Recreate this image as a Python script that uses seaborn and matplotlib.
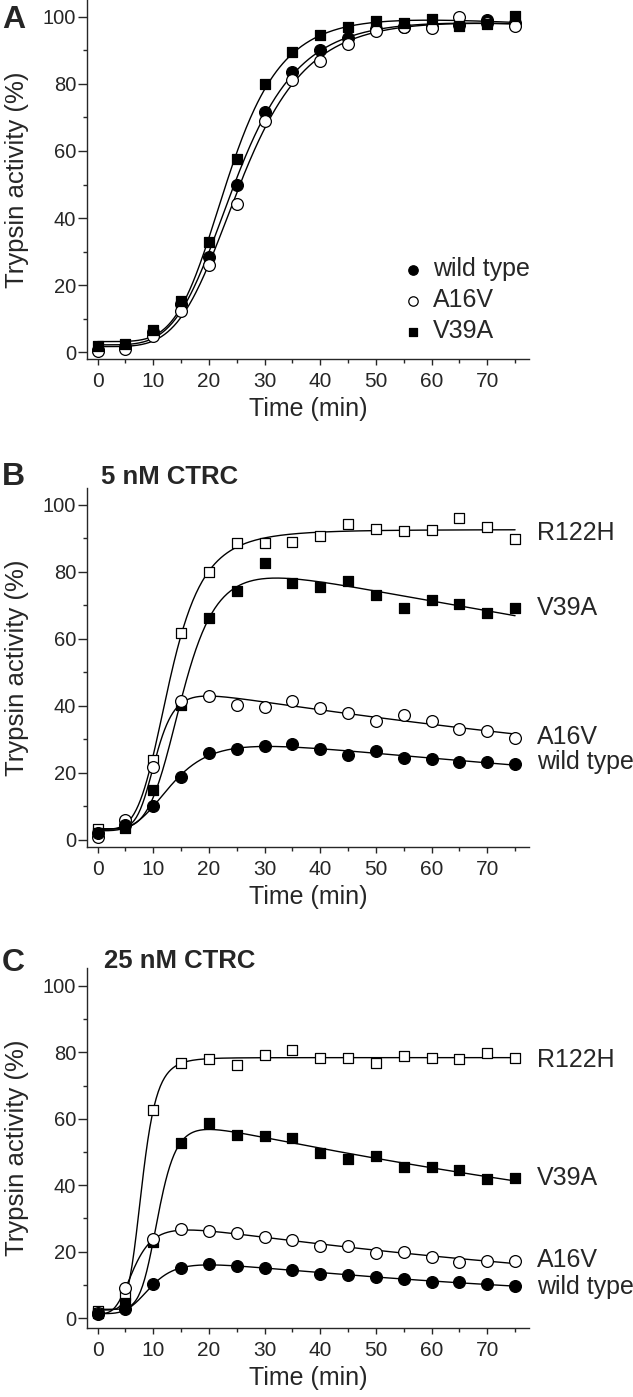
import numpy as np
import pandas as pd
import matplotlib
matplotlib.use('Agg')
import matplotlib.pyplot as plt
import seaborn as sns

sns.set_style('ticks')
plt.rcParams['font.family'] = ['Liberation Sans', 'DejaVu Sans']

# time points (min)
time = list(range(0, 80, 5))

# panel A: no CTRC
a_wt   = [0.8, 1.5, 6.0, 14.5, 28.5, 49.8, 71.7, 83.5, 90.0, 93.8, 96.5, 97.0, 97.0, 97.5, 99.0, 98.0]
a_a16v = [0.5, 1.0, 5.0, 12.3, 26.0, 44.1, 68.9, 81.1, 86.8, 92.0, 95.8, 97.0, 96.8, 100.0, 98.0, 97.2]
a_v39a = [1.8, 2.5, 6.5, 15.2, 33.0, 57.7, 80.1, 89.5, 94.5, 97.1, 98.8, 98.2, 99.2, 97.2, 97.8, 100.2]

# panel B: 5 nM CTRC
b_r122h = [3.3, 5.5, 23.9, 61.7, 80.0, 88.5, 88.5, 88.8, 90.7, 94.2, 92.8, 92.3, 92.5, 96.0, 93.5, 89.7]
b_v39a  = [2.2, 3.5, 14.9, 40.3, 66.2, 74.4, 82.6, 76.6, 75.6, 77.4, 73.1, 69.2, 71.6, 70.4, 67.7, 69.2]
b_a16v  = [1.0, 6.0, 21.9, 41.5, 43.0, 40.3, 39.8, 41.5, 39.5, 37.8, 35.6, 37.3, 35.6, 33.0, 32.6, 30.3]
b_wt    = [2.0, 4.5, 10.0, 18.9, 25.9, 27.1, 27.9, 28.7, 27.1, 25.4, 26.4, 24.6, 24.2, 23.4, 23.4, 22.7]

# panel C: 25 nM CTRC
c_r122h = [2.1, 7.0, 62.7, 76.7, 77.9, 76.2, 79.2, 80.7, 78.2, 78.2, 76.9, 78.9, 78.4, 77.9, 79.7, 78.2]
c_v39a  = [1.5, 4.4, 23.0, 52.6, 58.6, 55.1, 54.8, 54.3, 49.6, 47.8, 48.8, 45.6, 45.4, 44.6, 41.8, 42.1]
c_a16v  = [1.5, 8.9, 23.7, 26.7, 26.3, 25.5, 24.3, 23.5, 21.8, 21.8, 19.7, 20.0, 18.3, 16.8, 17.2, 17.2]
c_wt    = [1.2, 2.6, 10.1, 15.2, 16.2, 15.7, 15.0, 14.5, 13.3, 13.0, 12.3, 11.7, 10.8, 10.8, 10.2, 9.6]

names_a = ['wild type', 'A16V', 'V39A']
names_bc = ['R122H', 'V39A', 'A16V', 'wild type']

# marker styles per mutant
style = {
    'wild type': dict(marker='o', color='black', s=72),
    'A16V': dict(marker='o', color='white', s=72),
    'V39A': dict(marker='s', color='black', s=58),
    'R122H': dict(marker='s', color='white', s=58),
}


def fit_curve(t, y):
    # y = b + A * t^n/(K^n+t^n) * exp(-d t), grid search on K, n, d; b and A by least squares
    t = np.asarray(t, float)
    y = np.asarray(y, float)
    K = np.arange(3, 40, 0.25)
    n = np.arange(1, 12.01, 0.25)
    best = None
    tt = t[None, None, :]
    tn = tt ** n[None, :, None]
    kn = K[:, None, None] ** n[None, :, None]
    hill = tn / (kn + tn)
    ym = y.mean()
    for d in np.arange(0, 0.03, 0.0005):
        g = hill * np.exp(-d * tt)
        gm = g.mean(-1, keepdims=True)
        A = ((g - gm) * (y - ym)).sum(-1) / ((g - gm) ** 2).sum(-1)
        b = ym - A * gm[..., 0]
        sse = ((y - b[..., None] - A[..., None] * g) ** 2).sum(-1)
        i = np.unravel_index(np.nanargmin(sse), sse.shape)
        if best is None or sse[i] < best[0]:
            best = (sse[i], b[i], A[i], K[i[0]], n[i[1]], d)
    _, b, A, k, nn, d = best
    tf = np.linspace(0, 75, 400)
    return tf, b + A * tf ** nn / (k ** nn + tf ** nn) * np.exp(-d * tf)


def draw_panel(ax, series, ylim):
    for name, vals in series:
        tf, yf = fit_curve(time, vals)
        sns.lineplot(x=tf, y=yf, ax=ax, color='black', lw=1.0, zorder=2)
    for name, vals in series:
        st = style[name]
        sns.scatterplot(x=time, y=vals, ax=ax, marker=st['marker'], s=st['s'],
                        color=st['color'], edgecolor='black', linewidth=0.9,
                        zorder=3, label=name, legend=False)
    ax.set_xlim(-1.9, 77.5)
    ax.set_ylim(*ylim)
    ax.set_xticks(range(0, 80, 10))
    ax.set_xticks(range(5, 80, 10), minor=True)
    ax.set_yticks(range(0, 101, 20))
    ax.set_yticks(range(10, 100, 20), minor=True)
    ax.tick_params(axis='y', which='major', length=6.3, width=1, pad=1.5, labelsize=14.5)
    ax.tick_params(axis='y', which='minor', length=3.2, width=1)
    ax.tick_params(axis='x', which='major', length=4.5, width=1, pad=5, labelsize=15)
    ax.tick_params(axis='x', which='minor', length=3, width=1)
    sns.despine(ax=ax)
    for sp in ['left', 'bottom']:
        ax.spines[sp].set_linewidth(1.0)
    ax.set_xlabel('Time (min)', fontsize=18, labelpad=4)
    ax.set_ylabel('Trypsin activity (%)', fontsize=18.5)
    ax.yaxis.set_label_coords(-0.131, 0.5)


fig = plt.figure(figsize=(6.33, 13.97), dpi=100)
W, H = 633, 1397
left, width = 87 / W, 442 / W

axA = fig.add_axes([left, 1 - 359 / H, width, 359 / H])
axB = fig.add_axes([left, 1 - 847 / H, width, 359 / H])
axC = fig.add_axes([left, 1 - 1328 / H, width, 360 / H])

draw_panel(axA, list(zip(names_a, [a_wt, a_a16v, a_v39a])), (-2, 105))
draw_panel(axB, list(zip(names_bc, [b_r122h, b_v39a, b_a16v, b_wt])), (-2.1, 105))
draw_panel(axC, list(zip(names_bc, [c_r122h, c_v39a, c_a16v, c_wt])), (-3, 105.4))

axA.legend(loc='center left', bbox_to_anchor=(0.716, 0.164), frameon=False,
           fontsize=18, handlelength=0.8, handletextpad=0.38, labelspacing=0.28,
           borderpad=0, borderaxespad=0, markerscale=0.8)

# labels to the right of the curves
label_y_b = [91.6, 69.3, 30.8, 23.4]
label_y_c = [77.7, 42.2, 17.5, 9.4]
for ax, ys in [(axB, label_y_b), (axC, label_y_c)]:
    for name, yv in zip(names_bc, ys):
        ax.text(78.9, yv, name, fontsize=18, va='center', ha='left')

# panel letters and titles
fig.text(2 / W, 1 - 28 / H, 'A', fontsize=23, fontweight='bold', va='baseline')
fig.text(2 / W, 1 - 485 / H, 'B', fontsize=23, fontweight='bold', va='baseline')
fig.text(2 / W, 1 - 971 / H, 'C', fontsize=23, fontweight='bold', va='baseline')
fig.text(101 / W, 1 - 484 / H, '5 nM CTRC', fontsize=18.5, fontweight='bold', va='baseline')
fig.text(104 / W, 1 - 968 / H, '25 nM CTRC', fontsize=18.5, fontweight='bold', va='baseline')

fig.savefig('out.png', dpi=100)
